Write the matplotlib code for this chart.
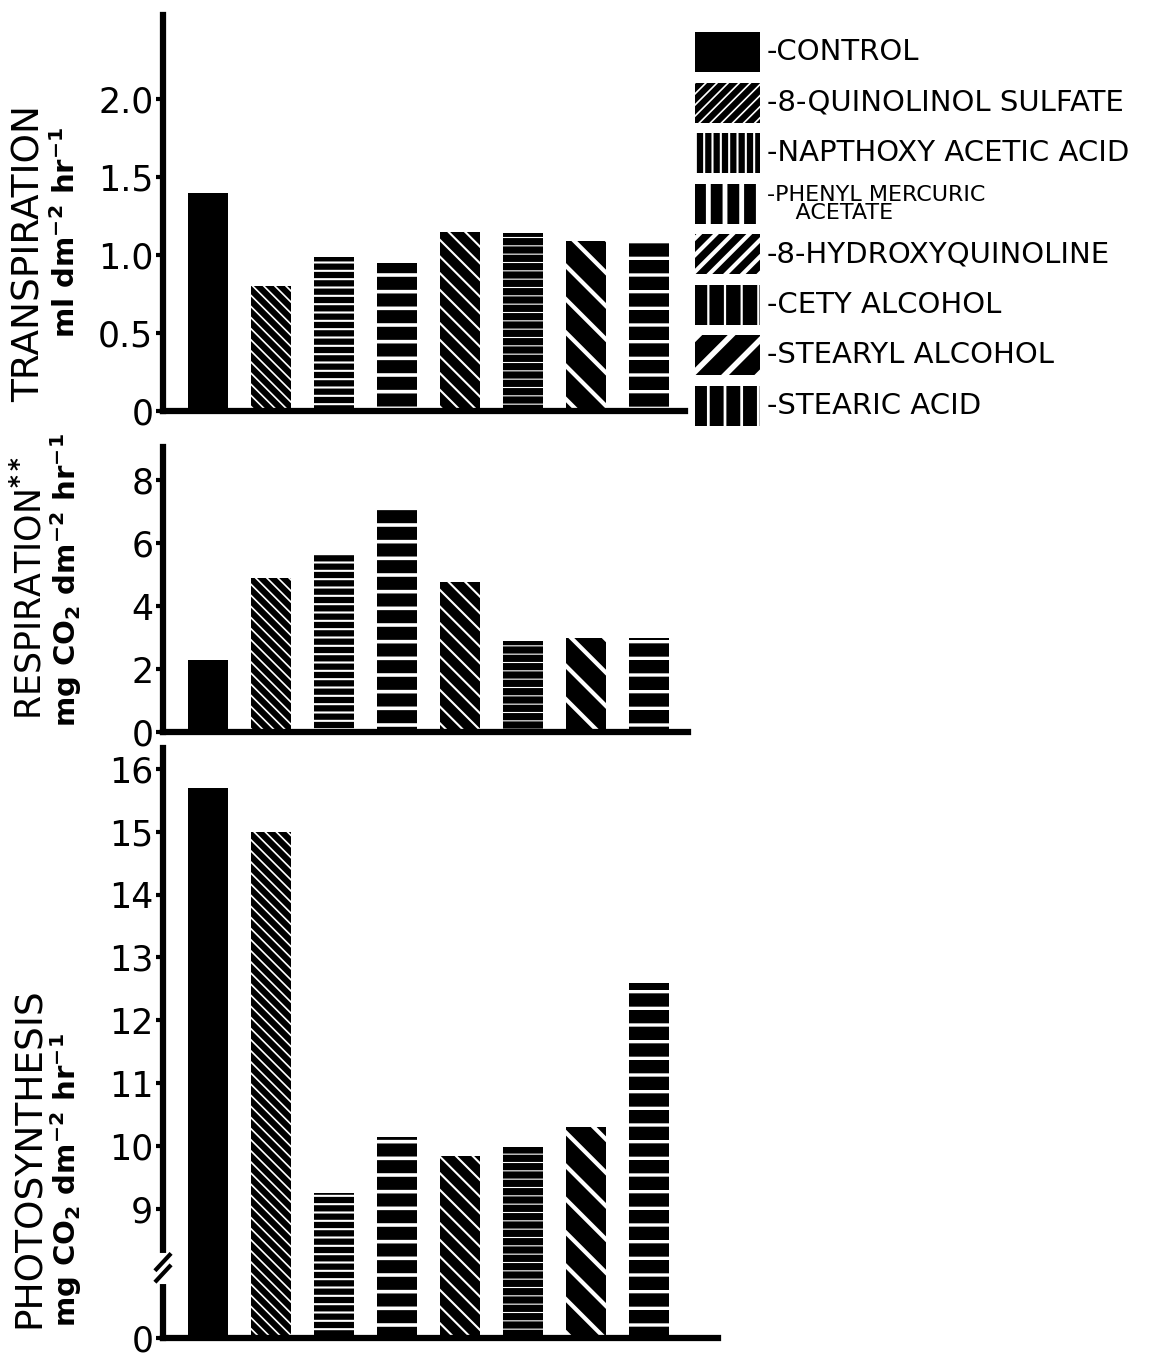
import numpy as np
import matplotlib
matplotlib.use('Agg')
import matplotlib.pyplot as plt
import matplotlib.patches as mpatches
import matplotlib.transforms as mtrans

plt.rcParams['font.family'] = ['DejaVu Sans']
plt.rcParams['mathtext.default'] = 'bf'
plt.rcParams['hatch.color'] = 'white'

treatments = ['CONTROL', '8-QUINOLINOL SULFATE', 'NAPTHOXY ACETIC ACID',
              'PHENYL MERCURIC\n    ACETATE', '8-HYDROXYQUINOLINE', 'CETY ALCOHOL',
              'STEARYL ALCOHOL', 'STEARIC ACID']
transpiration = [1.40, 0.80, 0.99, 0.95, 1.15, 1.14, 1.09, 1.10]
respiration = [2.3, 4.9, 5.65, 7.15, 4.75, 2.9, 3.0, 3.0]
photosynthesis = [15.7, 15.0, 9.25, 10.15, 9.85, 9.98, 10.3, 12.6]

trans_ticks = [0, 0.5, 1.0, 1.5, 2.0]
trans_ticklabels = ['0', '0.5', '1.0', '1.5', '2.0']
resp_ticks = [0, 2, 4, 6, 8]
photo_ticks = [0, 9, 10, 11, 12, 13, 14, 15, 16]

# hatch styles (bars are drawn black with white pattern lines)
bar_hatch = [None, '\\\\\\', '--', '-', '\\\\', '--', '\\', '-']
bar_hlw = [1.0, 1.2, 1.5, 2.6, 1.5, 0.8, 3.0, 2.4]
leg_hatch = [None, '///', '||', '|', '//', '|', '/', '|']
leg_hlw = [1.0, 1.2, 1.5, 3.5, 3.0, 1.6, 4.0, 2.0]

W, H = 1163, 1357
fig = plt.figure(figsize=(W / 100, H / 100), dpi=100)


def px_axes(x0, y0, x1, y1):
    # axes from pixel box (top-left origin)
    return fig.add_axes([x0 / W, 1 - y1 / H, (x1 - x0) / W, (y1 - y0) / H])


def style_axes(ax):
    for s in ['top', 'right']:
        ax.spines[s].set_visible(False)
    for s in ['left', 'bottom']:
        ax.spines[s].set_linewidth(4.5)
    ax.tick_params(axis='y', direction='out', length=5, width=3, labelsize=25, pad=2)
    ax.tick_params(axis='x', bottom=False, labelbottom=False)


def draw_bars(ax, values):
    x = np.arange(len(values))
    bars = ax.bar(x, values, width=0.64, color='black', edgecolor='white', linewidth=0)
    for b, h, lw in zip(bars, bar_hatch, bar_hlw):
        if h:
            b.set_hatch(h)
            if hasattr(b, 'set_hatch_linewidth'):
                b.set_hatch_linewidth(lw)
    return bars


# transpiration
ax1 = px_axes(163, 15, 685, 411)
draw_bars(ax1, transpiration)
ax1.set_xlim(-0.72, 7.57)
ax1.set_ylim(0, 2.54)
ax1.set_yticks(trans_ticks)
ax1.set_yticklabels(trans_ticklabels)
style_axes(ax1)

# respiration
ax2 = px_axes(163, 447, 688, 732)
draw_bars(ax2, respiration)
ax2.set_xlim(-0.72, 7.62)
ax2.set_ylim(0, 9.05)
ax2.set_yticks(resp_ticks)
style_axes(ax2)

# photosynthesis with broken axis (0..9 compressed)
brk = 9.0
low_span = 2.05


def fwd(y):
    y = np.asarray(y, dtype=float)
    return np.where(y < brk, y * low_span / brk, y - brk + low_span)


def inv(y):
    y = np.asarray(y, dtype=float)
    return np.where(y < low_span, y * brk / low_span, y + brk - low_span)


ax3 = px_axes(163, 748, 718, 1338)
ax3.set_yscale('function', functions=(fwd, inv))
draw_bars(ax3, photosynthesis)
ax3.set_xlim(-0.72, 8.1)
ax3.set_ylim(0, 16.33)
ax3.set_yticks(photo_ticks)
ax3.set_yticklabels([str(t) for t in photo_ticks])
ax3.yaxis.set_minor_locator(matplotlib.ticker.NullLocator())
style_axes(ax3)
# break mark on the y axis
bt = mtrans.blended_transform_factory(ax3.transAxes, ax3.transData)
ax3.plot([0, 0], [4.2, 5.6], color='white', lw=8, transform=bt, clip_on=False, zorder=5)
ax3.plot([-0.012, 0.012], [4.0, 5.0], color='black', lw=3, transform=bt, clip_on=False, zorder=6)
ax3.plot([-0.012, 0.012], [4.8, 5.8], color='black', lw=3, transform=bt, clip_on=False, zorder=6)

# axis labels
def ftext(x, y, s, **kw):
    fig.text(x / W, 1 - y / H, s, rotation=90, ha='center', va='center', **kw)


ftext(30, 253, 'TRANSPIRATION', fontsize=27)
ftext(66, 232, r'ml dm$^{-2}$ hr$^{-1}$', fontsize=21, fontweight='bold')
ftext(30, 588, r'RESPIRATION$^{**}$', fontsize=25)
ftext(66, 580, r'mg CO$_2$ dm$^{-2}$ hr$^{-1}$', fontsize=21, fontweight='bold')
ftext(30, 1158, 'PHOTOSYNTHESIS', fontsize=27)
ftext(66, 1180, r'mg CO$_2$ dm$^{-2}$ hr$^{-1}$', fontsize=21, fontweight='bold')

# legend drawn as its own small axes
axl = px_axes(695, 27, 1160, 431)
axl.set_xlim(0, 1)
axl.set_ylim(len(treatments), 0)
axl.axis('off')
for i, name in enumerate(treatments):
    r = mpatches.Rectangle((0, i + 0.1), 0.14, 0.8, facecolor='black',
                           edgecolor='white', linewidth=0)
    if leg_hatch[i]:
        r.set_hatch(leg_hatch[i])
        if hasattr(r, 'set_hatch_linewidth'):
            r.set_hatch_linewidth(leg_hlw[i])
    axl.add_patch(r)
    fs = 16 if '\n' in name else 21
    axl.text(0.155, i + 0.5, '-' + name, fontsize=fs, va='center', ha='left',
             linespacing=0.85)

fig.savefig('out.png', dpi=100)
